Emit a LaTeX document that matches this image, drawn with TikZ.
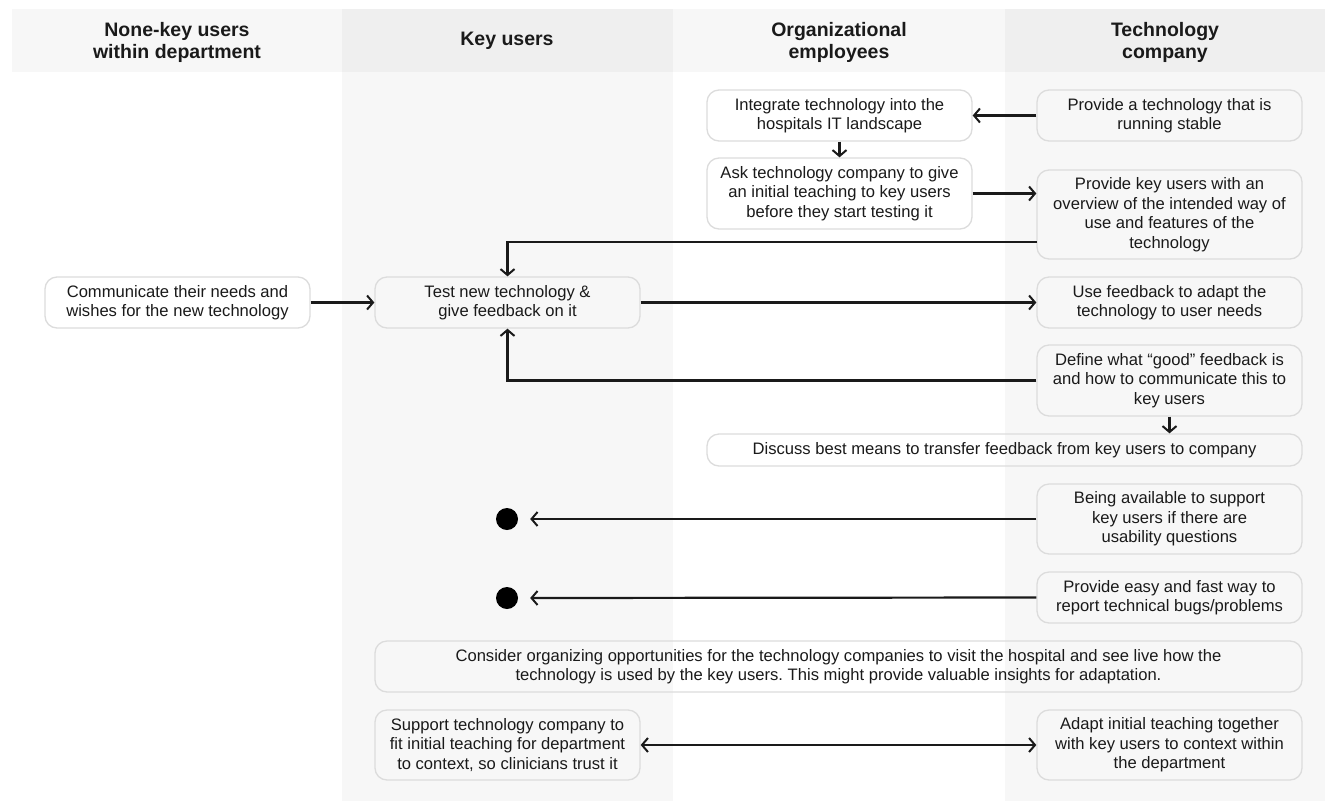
\documentclass[tikz,border=0pt]{standalone}
\usepackage{fontspec}
\setmainfont{Liberation Sans}
\frenchspacing
\usetikzlibrary{arrows.meta}
\definecolor{ink}{HTML}{1A1A1A}
\definecolor{laneA}{HTML}{F7F7F7}
\definecolor{laneB}{HTML}{EFEFEF}
\definecolor{edge}{HTML}{DCDCDC}
\tikzset{
  box/.style={draw=edge, line width=1.3pt, rounded corners=12pt, align=center,
    text=ink, font=\fontsize{16.6}{19.5}\selectfont, inner sep=0pt},
  head/.style={align=center, text=ink, font=\fontsize{19.5}{22}\selectfont\bfseries},
  arr/.style={line width=2.2pt, ink, -{Straight Barb[length=6pt,width=14pt,line width=2pt]}},
  biarr/.style={line width=2.2pt, ink, {Straight Barb[length=6pt,width=14pt,line width=2pt]}-{Straight Barb[length=6pt,width=14pt,line width=2pt]}},
  enddot/.style={circle, fill=black, minimum size=22pt, inner sep=0pt},
}
\begin{document}
\begin{tikzpicture}[x=1pt, y=-1pt]
  % canvas
  \fill[white] (0,0) rectangle (1325,801);
  \useasboundingbox (0,0) rectangle (1325,801);
  % lane bodies
  \fill[laneA] (342,72) rectangle (673,801);
  \fill[laneA] (1005,72) rectangle (1325,801);
  % lane headers
  \fill[laneA] (12,9) rectangle (342,72);
  \fill[laneB] (342,9) rectangle (673,72);
  \fill[laneA] (673,9) rectangle (1005,72);
  \fill[laneB] (1005,9) rectangle (1325,72);
  \node[head] (h1) at (177,42) {None-key users\\within department};
  \node[head] (h2) at (507,41) {Key users};
  \node[head] (h3) at (839,42) {Organizational\\employees};
  \node[head] (h4) at (1165,42) {Technology\\company};

  % activities
  \node[box, minimum width=265pt, minimum height=51pt] (integ) at (839.5,115.5)
    {Integrate technology into the\\hospitals IT landscape};
  \node[box, minimum width=265pt, minimum height=51pt] (stable) at (1169.5,115.5)
    {Provide a technology that is\\running stable};
  \node[box, minimum width=265pt, minimum height=71pt] (ask) at (839.5,193.5)
    {Ask technology company to give\\an initial teaching to key users\\before they start testing it};
  \node[box, minimum width=265pt, minimum height=89pt] (overview) at (1169.5,214.5)
    {Provide key users with an\\overview of the intended way of\\use and features of the\\technology};
  \node[box, minimum width=265pt, minimum height=51pt] (comm) at (177.5,302.5)
    {Communicate their needs and\\wishes for the new technology};
  \node[box, minimum width=265pt, minimum height=51pt] (test) at (507.5,302.5)
    {Test new technology \&\\give feedback on it};
  \node[box, minimum width=265pt, minimum height=51pt] (usefb) at (1169.5,302.5)
    {Use feedback to adapt the\\technology to user needs};
  \node[box, minimum width=265pt, minimum height=71pt] (define) at (1169.5,380.5)
    {Define what “good” feedback is\\and how to communicate this to\\key users};
  \node[box, minimum width=595pt, minimum height=32pt] (discuss) at (1004.5,450)
    {Discuss best means to transfer feedback from key users to company};
  \node[box, minimum width=265pt, minimum height=70pt] (avail) at (1169.5,519)
    {Being available to support\\key users if there are\\usability questions};
  \node[box, minimum width=265pt, minimum height=51pt] (easy) at (1169.5,597.5)
    {Provide easy and fast way to\\report technical bugs/problems};
  \node[box, minimum width=927pt, minimum height=51pt] (consider) at (838.5,666.5)
    {Consider organizing opportunities for the technology companies to visit the hospital and see live how the\\technology is used by the key users. This might provide valuable insights for adaptation.};
  \node[box, minimum width=265pt, minimum height=70pt] (support) at (507.5,745)
    {Support technology company to\\fit initial teaching for department\\to context, so clinicians trust it};
  \node[box, minimum width=265pt, minimum height=70pt] (adapt) at (1169.5,745)
    {Adapt initial teaching together\\with key users to context within\\the department};

  % end points
  \node[enddot] (end1) at (507,519) {};
  \node[enddot] (end2) at (507,598) {};
  \coordinate (ovout) at (1037,242);

  % flows
  \draw[arr] (stable.west) -- (integ.east);
  \draw[arr] (integ.south) -- (ask.north);
  \draw[arr] (ask.east) -- (ask.east -| overview.west);
  \draw[arr] (ovout) -| (test.north);
  \draw[arr] (comm.east) -- (test.west);
  \draw[arr] (test.east) -- (usefb.west);
  \draw[arr] (define.west) -| (test.south);
  \draw[arr] (define.south) -- (define.south |- discuss.north);
  \draw[arr, shorten >=12pt] (avail.west) -- (end1.east);
  \draw[arr, shorten >=12pt] (easy.west) -- (end2.east);
  \draw[biarr] (support.east) -- (adapt.west);
\end{tikzpicture}
\end{document}
